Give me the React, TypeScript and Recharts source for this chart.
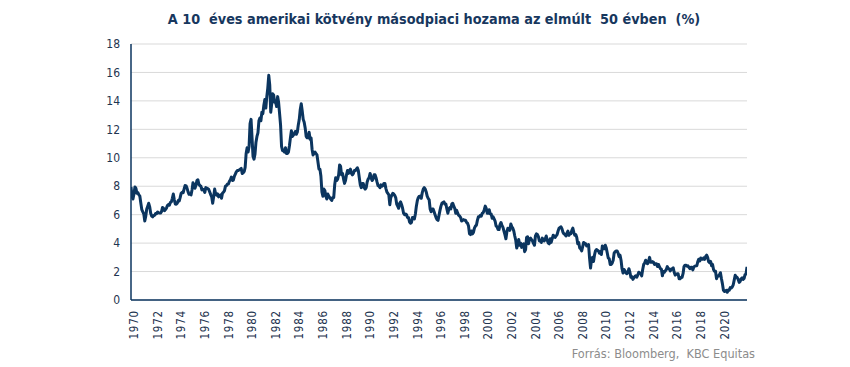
import React from "react";
import { LineChart, Line, XAxis, YAxis, CartesianGrid } from "recharts";

// Monthly 10-year US Treasury yield (%)
const START_YEAR = 1970;
const yields1970s: number[] = [
  7.95, 7.3, 7.1, 7.45, 7.95, 7.85, 7.5, 7.55, 7.4, 7.3, 6.8, 6.35,
  6.2, 6.05, 5.55, 5.9, 6.4, 6.6, 6.8, 6.55, 6.1, 5.9, 5.85, 5.95,
  5.95, 6.08, 6.07, 6.19, 6.13, 6.11, 6.11, 6.21, 6.5, 6.45, 6.28, 6.36,
  6.46, 6.64, 6.71, 6.67, 6.85, 6.9, 7.15, 7.45, 7.05, 6.75, 6.73, 6.8,
  6.99, 6.96, 7.21, 7.51, 7.58, 7.54, 7.81, 8.05, 8.02, 7.85, 7.6, 7.43,
  7.45, 7.39, 7.73, 8.25, 8.06, 7.86, 8.06, 8.4, 8.45, 8.14, 8.05, 8.0,
  7.74, 7.79, 7.73, 7.56, 7.9, 7.86, 7.83, 7.77, 7.59, 7.41, 7.25, 6.8,
  7.25, 7.8, 7.46, 7.37, 7.46, 7.25, 7.33, 7.4, 7.15, 7.52, 7.58, 7.69,
  8.01, 8.04, 8.15, 8.15, 8.35, 8.46, 8.64, 8.41, 8.42, 8.7, 8.85, 9.01,
  9.1, 9.1, 9.15, 9.2, 9.25, 8.9, 8.95, 9.03, 9.33, 10.3, 10.7, 10.4,
];
const yields1980s: number[] = [
  10.8, 12.4, 12.7, 11.4, 10.1, 9.9, 10.25, 11.1, 11.5, 11.75, 12.6, 12.8,
  12.6, 13.2, 13.1, 13.7, 14.1, 13.5, 14.3, 14.9, 15.8, 15.1, 13.2, 13.8,
  14.5, 14.4, 13.9, 13.9, 13.6, 14.3, 13.9, 13.1, 12.3, 10.8, 10.5, 10.5,
  10.4, 10.7, 10.3, 10.3, 10.4, 10.85, 11.4, 11.9, 11.5, 11.6, 11.7, 11.85,
  11.65, 11.8, 12.3, 12.7, 13.4, 13.8, 13.3, 12.7, 12.5, 12.1, 11.5, 11.4,
  11.4, 11.8, 11.3, 11.4, 10.6, 10.2, 10.3, 10.4, 10.3, 10.2, 9.7, 9.2,
  9.2, 8.7, 7.6, 7.3, 7.8, 7.7, 7.3, 7.1, 7.45, 7.3, 7.2, 7.1,
  7.0, 7.2, 7.2, 8.1, 8.6, 8.4, 8.5, 8.8, 9.5, 9.4, 8.8, 8.9,
  8.5, 8.2, 8.4, 8.8, 9.1, 8.9, 9.1, 9.2, 8.9, 8.8, 8.9, 9.1,
  9.1, 9.2, 9.3, 9.1, 8.6, 8.1, 7.9, 8.2, 8.2, 7.9, 7.8, 7.9,
];
const yields1990s: number[] = [
  8.3, 8.5, 8.6, 8.9, 8.6, 8.4, 8.5, 8.8, 8.8, 8.6, 8.3, 8.05,
  8.0, 7.9, 8.1, 8.0, 8.05, 8.2, 8.2, 7.85, 7.6, 7.5, 7.4, 6.7,
  7.2, 7.35, 7.5, 7.45, 7.35, 7.2, 6.75, 6.6, 6.45, 6.8, 6.9, 6.7,
  6.45, 6.1, 6.0, 6.05, 6.0, 5.8, 5.8, 5.5, 5.4, 5.45, 5.8, 5.8,
  5.7, 6.05, 6.6, 7.0, 7.2, 7.3, 7.3, 7.15, 7.55, 7.8, 7.9, 7.8,
  7.6, 7.3, 7.15, 7.05, 6.4, 6.2, 6.4, 6.4, 6.2, 6.0, 5.8, 5.65,
  5.6, 5.95, 6.3, 6.6, 6.8, 6.85, 6.9, 6.75, 6.75, 6.4, 6.1, 6.4,
  6.5, 6.4, 6.75, 6.8, 6.6, 6.45, 6.1, 6.3, 6.1, 5.95, 5.9, 5.8,
  5.55, 5.6, 5.65, 5.6, 5.6, 5.45, 5.4, 5.2, 4.65, 4.6, 4.85, 4.65,
  4.75, 5.05, 5.2, 5.25, 5.6, 5.85, 5.85, 5.95, 5.9, 6.1, 6.15, 6.35,
];
const yields2000s: number[] = [
  6.6, 6.45, 6.1, 6.1, 6.35, 6.05, 6.05, 5.75, 5.85, 5.7, 5.55, 5.2,
  5.15, 4.95, 4.95, 5.3, 5.45, 5.25, 5.1, 4.85, 4.6, 4.3, 4.8, 5.05,
  5.0, 4.9, 5.35, 5.15, 5.05, 4.85, 4.5, 4.2, 3.65, 3.95, 4.25, 3.85,
  4.0, 3.7, 3.85, 3.95, 3.4, 3.55, 4.4, 4.45, 3.95, 4.3, 4.35, 4.25,
  4.15, 3.98, 3.85, 4.5, 4.65, 4.6, 4.45, 4.15, 4.15, 4.05, 4.35, 4.2,
  4.15, 4.3, 4.5, 4.2, 4.0, 3.95, 4.3, 4.05, 4.3, 4.55, 4.5, 4.4,
  4.5, 4.6, 4.85, 5.05, 5.1, 5.15, 5.0, 4.75, 4.65, 4.6, 4.5, 4.7,
  4.85, 4.55, 4.65, 4.65, 4.9, 5.05, 4.75, 4.55, 4.6, 4.4, 3.95, 4.05,
  3.65, 3.6, 3.45, 3.75, 4.05, 4.0, 3.95, 3.8, 3.85, 3.9, 2.95, 2.25,
  2.85, 3.0, 2.7, 3.15, 3.45, 3.55, 3.5, 3.45, 3.3, 3.4, 3.2, 3.8,
];
const yields2010s: number[] = [
  3.6, 3.6, 3.85, 3.65, 3.3, 2.95, 2.9, 2.5, 2.5, 2.6, 2.8, 3.3,
  3.4, 3.45, 3.45, 3.3, 3.05, 3.15, 2.8, 2.2, 1.9, 2.15, 2.05, 1.9,
  1.85, 1.95, 2.2, 1.95, 1.6, 1.65, 1.45, 1.55, 1.65, 1.7, 1.6, 1.75,
  1.95, 1.9, 1.85, 1.7, 2.15, 2.5, 2.6, 2.8, 2.6, 2.55, 2.75, 3.0,
  2.65, 2.65, 2.7, 2.65, 2.5, 2.55, 2.55, 2.35, 2.5, 2.35, 2.2, 2.17,
  1.7, 2.0, 1.95, 2.05, 2.15, 2.35, 2.2, 2.2, 2.05, 2.15, 2.2, 2.27,
  1.95, 1.75, 1.8, 1.85, 1.85, 1.5, 1.5, 1.58, 1.6, 1.85, 2.35, 2.45,
  2.45, 2.38, 2.4, 2.3, 2.2, 2.3, 2.3, 2.12, 2.33, 2.38, 2.4, 2.41,
  2.7, 2.87, 2.74, 2.95, 2.86, 2.86, 2.96, 2.86, 3.06, 3.15, 3.0, 2.7,
  2.63, 2.72, 2.41, 2.5, 2.14, 2.01, 2.02, 1.5, 1.68, 1.69, 1.78, 1.92,
];
const yields2020s: number[] = [
  1.51, 1.15, 0.7, 0.6, 0.65, 0.68, 0.55, 0.7, 0.68, 0.87, 0.84, 0.92,
  1.07, 1.4, 1.74, 1.63, 1.58, 1.45, 1.24, 1.31, 1.49, 1.55, 1.44, 1.51,
  1.78, 1.83, 2.33,
];

const yieldSeries: number[] = [
  ...yields1970s,
  ...yields1980s,
  ...yields1990s,
  ...yields2000s,
  ...yields2010s,
  ...yields2020s,
];

const xTicks: number[] = [
  1970, 1972, 1974, 1976, 1978, 1980, 1982, 1984, 1986, 1988, 1990, 1992,
  1994, 1996, 1998, 2000, 2002, 2004, 2006, 2008, 2010, 2012, 2014, 2016,
  2018, 2020,
];
const yTicks: number[] = [0, 2, 4, 6, 8, 10, 12, 14, 16, 18];

const TITLE = "A 10\u00a0 éves amerikai kötvény másodpiaci hozama az elmúlt\u00a0 50 évben\u00a0 (%)";
const SOURCE = "Forrás: Bloomberg,\u00a0 KBC Equitas";

const data = yieldSeries.map((v, i) => ({ t: START_YEAR + i / 12, y: v }));
const lastT = data[data.length - 1].t;

const FONT = "'DejaVu Sans Condensed', 'DejaVu Sans', sans-serif";
const NAVY = "#0b355f";

const XTick = (props: any) => {
  const { x, y, payload } = props;
  return (
    <g transform={`translate(${x + 3},${y})`}>
      <text
        transform="rotate(-90)"
        x={0}
        y={0}
        dy="0.36em"
        textAnchor="end"
        fill="#1f3550"
        fontSize={11.5}
        fontFamily={FONT}
        letterSpacing={0.8}
      >
        {payload.value}
      </text>
    </g>
  );
};

export default function App() {
  return (
    <div
      style={{
        position: "fixed",
        left: 0,
        top: 0,
        width: 850,
        height: 367,
        background: "#fff",
        overflow: "hidden",
      }}
    >
      <div
        style={{
          position: "absolute",
          left: 0,
          top: 11,
          width: 868,
          textAlign: "center",
          fontFamily: FONT,
          fontWeight: "bold",
          fontSize: 14.3,
          color: "#17375e",
          whiteSpace: "pre",
        }}
      >
        {TITLE}
      </div>
      <LineChart
        width={850}
        height={367}
        data={data}
        margin={{ top: 44, right: 103, bottom: 0, left: 0 }}
      >
        <CartesianGrid vertical={false} stroke="#d9d9d9" strokeWidth={1} />
        <XAxis
          dataKey="t"
          type="number"
          domain={[START_YEAR, lastT]}
          ticks={xTicks}
          interval={0}
          tick={<XTick />}
          tickLine={false}
          tickSize={6}
          tickMargin={4}
          axisLine={{ stroke: NAVY, strokeWidth: 1.5 }}
          height={67}
          allowDataOverflow
        />
        <YAxis
          type="number"
          domain={[0, 18]}
          ticks={yTicks}
          interval={0}
          width={131}
          tickLine={false}
          tickSize={6}
          tickMargin={5}
          axisLine={{ stroke: NAVY, strokeWidth: 1.5 }}
          tick={{ fill: "#1f3550", fontSize: 12, fontFamily: FONT }}
        />
        <Line
          type="linear"
          dataKey="y"
          stroke={NAVY}
          strokeWidth={3}
          dot={false}
          strokeLinejoin="round"
          isAnimationActive={false}
        />
      </LineChart>
      <div
        style={{
          position: "absolute",
          right: 95,
          top: 346,
          fontFamily: FONT,
          fontSize: 12.6,
          color: "#8c8c8c",
          whiteSpace: "pre",
        }}
      >
        {SOURCE}
      </div>
    </div>
  );
}
